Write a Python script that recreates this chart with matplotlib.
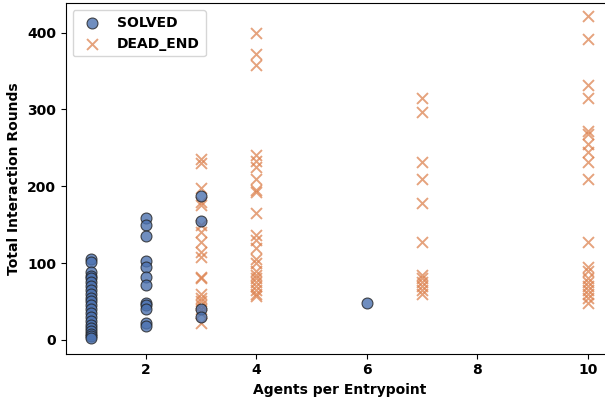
import numpy as np
import matplotlib.pyplot as plt

# agents per entrypoint -> total interaction rounds
solved_x = [1] * 22 + [2] * 12 + [3] * 4 + [6]
solved_y = [105, 101, 88, 83, 80, 75, 70, 65, 60, 55, 50, 45, 40, 35, 30, 25, 20, 15, 12, 8, 5, 2,
            159, 150, 135, 102, 95, 82, 72, 48, 45, 40, 22, 18,
            187, 155, 40, 30,
            48]

dead_x3 = [235, 230, 197, 180, 175, 150, 140, 128, 115, 108, 82, 80, 60, 55, 50, 45, 40, 35, 22]
dead_x4 = [400, 372, 358, 240, 233, 225, 210, 195, 192, 165, 137, 130, 120, 105, 100,
           90, 85, 80, 75, 70, 65, 60, 57]
dead_x7 = [315, 297, 232, 210, 178, 128, 85, 80, 75, 70, 65, 60]
dead_x10 = [421, 392, 332, 315, 272, 268, 255, 245, 232, 210, 128, 95, 90, 80, 75,
            70, 65, 60, 55, 48]

dead_x = [3] * len(dead_x3) + [4] * len(dead_x4) + [7] * len(dead_x7) + [10] * len(dead_x10)
dead_y = dead_x3 + dead_x4 + dead_x7 + dead_x10

fig = plt.figure(figsize=(6.05, 4.0), dpi=100)
ax = fig.add_axes([65.7 / 605, 46.3 / 400, 547 / 605, 350.4 / 400])

ax.scatter(solved_x, solved_y, s=62, c='#4C72B0', alpha=0.8, edgecolor='#222222',
           linewidth=0.8, label='SOLVED', zorder=3)
ax.scatter(dead_x, dead_y, s=62, marker='x', c='#DD8452', alpha=0.75,
           linewidth=1.4, label='DEAD_END', zorder=2)

ax.set_xlim(0.55, 10.45)
ax.set_ylim(-18, 438)
ax.set_xticks([2, 4, 6, 8, 10])
ax.set_yticks([0, 100, 200, 300, 400])
ax.set_xlabel('Agents per Entrypoint', fontsize=10, fontweight='bold')
ax.set_ylabel('Total Interaction Rounds', fontsize=10, fontweight='bold')
for lab in ax.get_xticklabels() + ax.get_yticklabels():
    lab.set_fontweight('bold')
    lab.set_fontsize(10)

leg = ax.legend(loc='upper left', prop={'weight': 'bold', 'size': 10})

fig.savefig('out.png', dpi=100)
